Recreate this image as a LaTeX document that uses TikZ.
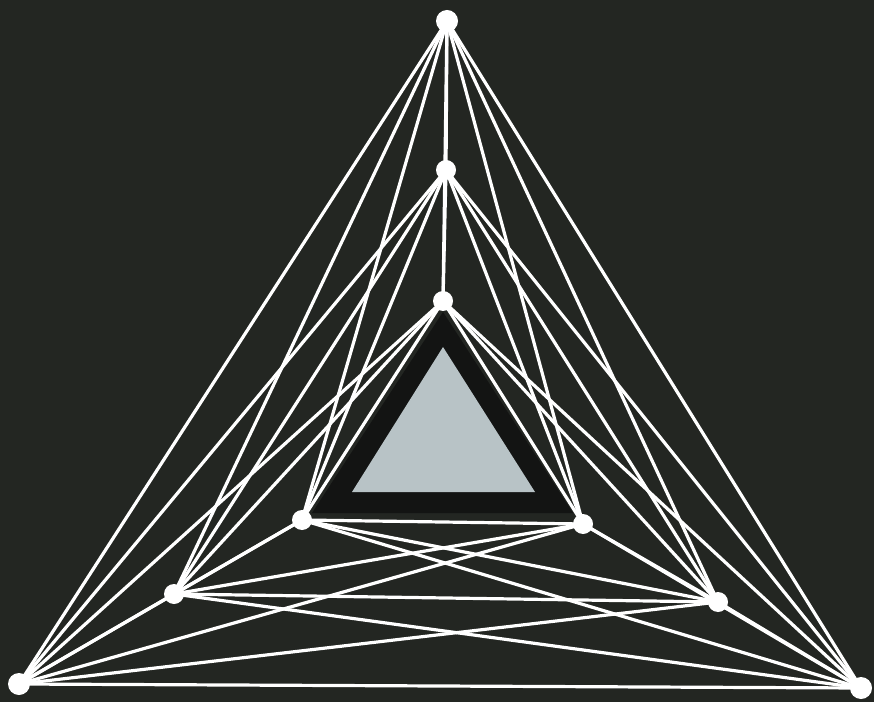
\documentclass[tikz,border=0pt]{standalone}
\usetikzlibrary{backgrounds}
\definecolor{bgcol}{HTML}{232622}
\definecolor{bandcol}{HTML}{131413}
\definecolor{glass}{HTML}{B8C3C6}
\tikzset{
  vtx/.style={circle, fill=white, draw=none, inner sep=0pt, minimum size=#1},
  vtx/.default=20pt,
  edge/.style={draw=white, line width=3.2pt, line cap=round}
}
\begin{document}
\begin{tikzpicture}[x=1pt,y=1pt]
\useasboundingbox (0,0) rectangle (874,702);
% vertices
\node[vtx=22pt] (OT) at (447,681) {};
\node[vtx] (MT) at (446,532) {};
\node[vtx] (IT) at (443,401) {};
\node[vtx] (IL) at (302,182) {};
\node[vtx] (IR) at (583,178) {};
\node[vtx] (ML) at (174,108) {};
\node[vtx] (MR) at (718,100) {};
\node[vtx=22pt] (OL) at (19,18) {};
\node[vtx=22pt] (OR) at (861,14) {};
\begin{scope}[on background layer]
\fill[bgcol] (0,0) rectangle (874,702);
% inner triangle
\fill[bandcol] (443,390) -- (312,189) -- (573,189) -- cycle;
\fill[glass] (443,355) -- (352,210) -- (535,210) -- cycle;
\foreach \a/\b in {OT/MT,OT/IT,OT/IL,OT/IR,OT/ML,OT/MR,OT/OL,OT/OR,
                   MT/IT,MT/IL,MT/IR,MT/ML,MT/MR,MT/OL,MT/OR,
                   IT/IL,IT/IR,IT/ML,IT/MR,IT/OL,IT/OR,
                   IL/IR,IL/ML,IL/MR,IL/OL,IL/OR,
                   IR/ML,IR/MR,IR/OL,IR/OR,
                   ML/MR,ML/OL,ML/OR,
                   MR/OL,MR/OR,
                   OL/OR}
  \draw[edge] (\a.center) -- (\b.center);
\end{scope}
\end{tikzpicture}
\end{document}
